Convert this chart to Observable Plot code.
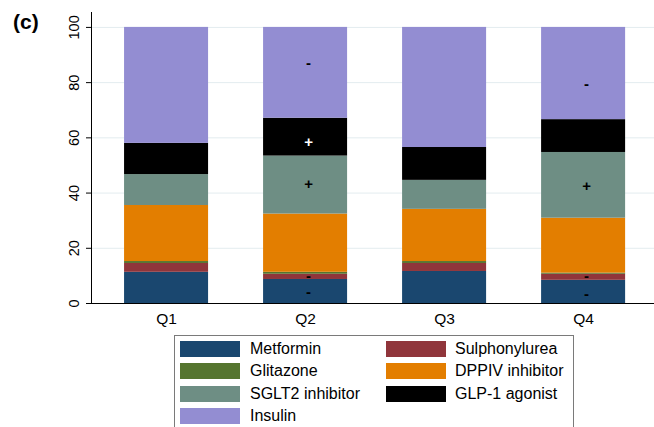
<!DOCTYPE html>
<html>
<head>
<meta charset="utf-8">
<script src="https://cdn.jsdelivr.net/npm/d3@7"></script>
<script src="https://cdn.jsdelivr.net/npm/@observablehq/plot@0.6"></script>
<style>
  body { margin: 0; background: #fff; overflow: hidden; font-family: "Liberation Sans", Arial, Helvetica, sans-serif; }
  #wrap { position: relative; width: 654px; height: 427px; }
  #panel { position: absolute; left: 13px; top: 11px; font-size: 21px; font-weight: bold; line-height: 21px; }
  #legend { position: absolute; left: 174px; top: 335px; width: 400px; height: 110px; border: 1px solid #7a7a7a; box-sizing: border-box; }
  .item { position: absolute; height: 16px; display: flex; align-items: center; font-size: 16px; white-space: nowrap; }
  .sw { width: 60px; height: 16px; margin-right: 10px; flex: none; }
</style>
</head>
<body>
<div id="wrap">
  <div id="chart"></div>
  <div id="panel">(c)</div>
  <div id="legend"></div>
</div>
<script>
// Share of prescriptions (%) by drug class and quarter
const quarters = ["Q1", "Q2", "Q3", "Q4"];
const drugs = ["Metformin", "Sulphonylurea", "Glitazone", "DPPIV inhibitor", "SGLT2 inhibitor", "GLP-1 agonist", "Insulin"];
const colors = ["#1a476f", "#90353b", "#55752f", "#e37e00", "#6e8e84", "#000000", "#938dd2"];

const metformin     = [11.3, 8.7, 11.6, 8.4];
const sulphonylurea = [3.2, 1.9, 2.9, 2.2];
const glitazone     = [0.7, 0.7, 0.7, 0.4];
const dppiv         = [20.3, 21.1, 18.9, 19.9];
const sglt2         = [11.2, 21.0, 10.5, 23.8];
const glp1          = [11.3, 13.7, 11.9, 11.9];
const insulin       = [42.0, 32.9, 43.5, 33.4];

const yTicks = [0, 20, 40, 60, 80, 100];

// Direction-of-change markers placed inside segments
const signQuarter = ["Q2", "Q2", "Q2", "Q2", "Q2", "Q4", "Q4", "Q4", "Q4"];
const signDrug = ["Insulin", "GLP-1 agonist", "SGLT2 inhibitor", "Sulphonylurea", "Metformin",
                  "Insulin", "SGLT2 inhibitor", "Sulphonylurea", "Metformin"];
const signText = ["-", "+", "+", "-", "-", "-", "+", "-", "-"];
const signAt = [87, 58.4, 43.1, 9.9, 4.1, 79.3, 42.4, 9.8, 3.4];

// Long table for the stacked bars
const series = [metformin, sulphonylurea, glitazone, dppiv, sglt2, glp1, insulin];
const rows = [];
quarters.forEach((q, qi) => {
  drugs.forEach((drug, di) => rows.push({quarter: q, qi, drug, value: series[di][qi]}));
});

const signs = signText.map((s, i) => ({
  qi: quarters.indexOf(signQuarter[i]),
  drug: signDrug[i],
  sign: s,
  at: signAt[i]
}));

const onDark = d => d.drug === "GLP-1 agonist";

const chart = Plot.plot({
  width: 654,
  height: 330,
  marginLeft: 91,
  marginRight: 0,
  marginTop: 12,
  marginBottom: 27,
  style: {fontFamily: "'Liberation Sans', Arial, Helvetica, sans-serif", background: "white", color: "black"},
  x: {domain: [-0.04, 4.01], label: null},
  y: {domain: [0, 105.4], label: null},
  color: {domain: drugs, range: colors},
  marks: [
    Plot.gridY(yTicks, {stroke: "#e3ecef", strokeOpacity: 1, strokeWidth: 1}),
    Plot.rectY(rows, {
      x1: "qi",
      x2: d => d.qi + 1,
      y: "value",
      fill: "drug",
      insetLeft: 27.5,
      insetRight: 27.5
    }),
    Plot.text(signs, {
      filter: d => !onDark(d),
      x: d => d.qi + 0.5,
      y: "at",
      text: "sign",
      fill: "black",
      fontSize: 15,
      fontWeight: "bold",
      dx: 3
    }),
    Plot.text(signs, {
      filter: onDark,
      x: d => d.qi + 0.5,
      y: "at",
      text: "sign",
      fill: "white",
      fontSize: 15,
      fontWeight: "bold",
      dx: 3
    }),
    Plot.ruleY([0], {stroke: "black", strokeWidth: 1}),
    Plot.ruleX([-0.04], {stroke: "black", strokeWidth: 1}),
    Plot.axisY(yTicks, {tickSize: 5, tickRotate: -90, tickPadding: 7.5, fontSize: 14.5}),
    Plot.axisX(quarters.map((q, i) => i + 0.5), {
      tickSize: 0,
      tickPadding: 9,
      fontSize: 15.5,
      tickFormat: d => quarters[Math.floor(d)]
    })
  ]
});
document.getElementById("chart").appendChild(chart);

// Legend: two columns, filled row by row
const legend = document.getElementById("legend");
drugs.forEach((drug, i) => {
  const col = i % 2, row = Math.floor(i / 2);
  const item = document.createElement("div");
  item.className = "item";
  item.style.left = (col === 0 ? 5 : 211) + "px";
  item.style.top = (5 + row * 22.33) + "px";
  const sw = document.createElement("div");
  sw.className = "sw";
  sw.style.background = colors[i];
  if (col === 1) sw.style.marginRight = "9px";
  const label = document.createElement("span");
  label.textContent = drug;
  item.appendChild(sw);
  item.appendChild(label);
  legend.appendChild(item);
});
</script>
</body>
</html>
